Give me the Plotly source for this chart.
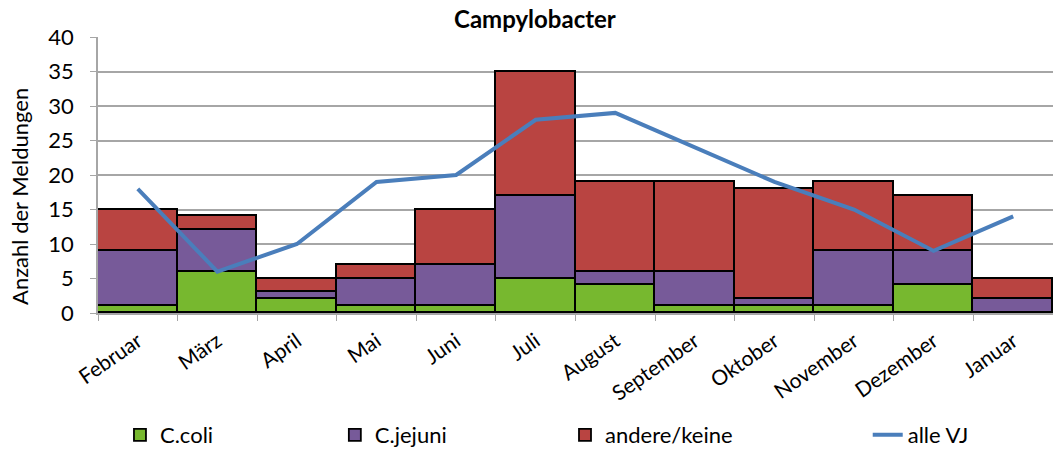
import plotly.graph_objects as go

months = ["Februar", "März", "April", "Mai", "Juni", "Juli", "August",
          "September", "Oktober", "November", "Dezember", "Januar"]
c_coli = [1, 6, 2, 1, 1, 5, 4, 1, 1, 1, 4, 0]
c_jejuni = [8, 6, 1, 4, 6, 12, 2, 5, 1, 8, 5, 2]
andere = [6, 2, 2, 2, 8, 18, 13, 13, 16, 10, 8, 3]
alle_vj = [18, 6, 10, 19, 20, 28, 29, 24, 19, 15, 9, 14]

FONT = "Lato, Open Sans, sans-serif"

fig = go.Figure()
for name, vals, col, lg in [("C.coli", c_coli, "#77b82f", "legend"),
                            ("C.jejuni", c_jejuni, "#775a99", "legend2"),
                            ("andere/keine", andere, "#b94441", "legend3")]:
    fig.add_trace(go.Bar(x=months, y=vals, name=name, marker_color=col,
                         marker_line_color="black", marker_line_width=1.8, legend=lg))
fig.add_trace(go.Scatter(x=months, y=alle_vj, name="alle VJ", mode="lines",
                         line=dict(color="#4a7ebb", width=4), legend="legend4"))

leg_common = dict(orientation="h", xanchor="left", y=-0.442, yanchor="middle",
                  font=dict(size=22, family=FONT), bgcolor="rgba(0,0,0,0)")
fig.update_layout(
    width=1053, height=453,
    barmode="stack", bargap=0,
    plot_bgcolor="white", paper_bgcolor="white",
    margin=dict(l=98, r=0, t=37, b=140, autoexpand=False),
    font=dict(family=FONT, size=20, color="black"),
    title=dict(text="<b>Campylobacter</b>", x=0.508, xanchor="center",
               y=0.956, yanchor="middle", yref="container",
               font=dict(size=24, family=FONT)),
    legend=dict(x=0.023, **leg_common),
    legend2=dict(x=0.248, **leg_common),
    legend3=dict(x=0.489, **leg_common),
    legend4=dict(x=0.806, **leg_common),
    showlegend=True,
)
fig.add_annotation(text="Anzahl der Meldungen", textangle=-90, xref="paper", yref="paper",
                   x=-0.0817, y=0.424, xanchor="center", yanchor="middle",
                   showarrow=False, font=dict(size=22, family=FONT))
fig.update_xaxes(tickangle=-35, tickson="boundaries", ticks="outside", ticklen=6,
                 tickcolor="#a6a6a6", showline=True, linecolor="#a6a6a6", linewidth=1.5,
                 tickfont=dict(size=21), showgrid=False, ticklabelstandoff=6)
fig.update_yaxes(range=[0, 40], dtick=5, showgrid=True, gridcolor="#a6a6a6", gridwidth=1.5,
                 showline=True, linecolor="#a6a6a6", linewidth=1.5, ticks="outside",
                 ticklen=6, tickcolor="#a6a6a6", tickfont=dict(size=22),
                 ticklabelstandoff=12, zeroline=False)

fig.write_html("out.html", config={"displayModeBar": False},
               post_script="document.body.style.margin='0';")
